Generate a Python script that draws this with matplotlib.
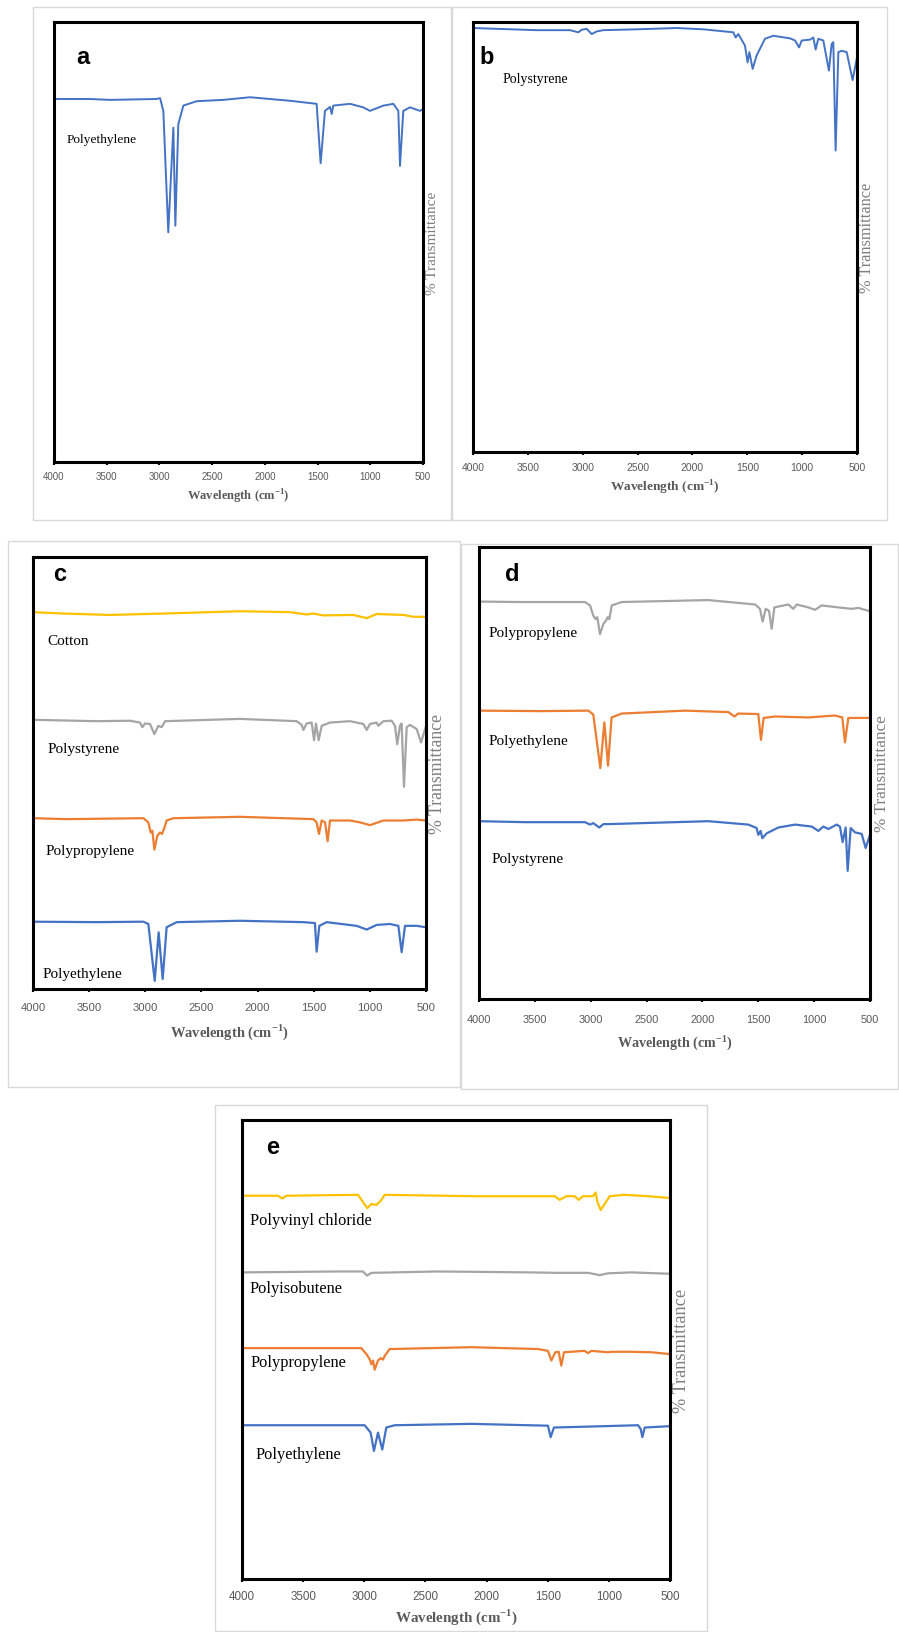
import matplotlib
matplotlib.use("Agg")
import matplotlib.pyplot as plt
from matplotlib.patches import Rectangle

# colours (Excel default palette)
BLUE = '#4472C4'
ORANGE = '#ED7D31'
GRAY = '#A5A5A5'
YELLOW = '#FFC000'

ticks = [4000, 3500, 3000, 2500, 2000, 1500, 1000, 500]

# ---- panel a : polyethylene ----
a_pe_wn = [4000, 3658, 3469, 3026, 2994, 2963, 2916, 2868, 2849, 2821, 2773, 2647, 2394, 2141,
           1762, 1509, 1471, 1430, 1382, 1366, 1351, 1192, 1066, 1003, 876, 781, 734, 718, 687, 623, 528, 500]
a_pe_t = [82.5, 82.5, 82.3, 82.5, 82.7, 79.8, 52.2, 76.0, 53.7, 76.8, 81.0, 82.0, 82.3, 82.9,
          82.1, 81.4, 67.9, 79.8, 80.7, 79.1, 81.0, 81.4, 80.6, 79.8, 81.0, 81.4, 79.8, 67.3, 79.8, 80.6, 79.8, 80.2]

# ---- panel b : polystyrene ----
b_ps_wn = [4000, 3420, 3116, 3040, 3010, 2964, 2918, 2873, 2812, 2508, 2144, 1901, 1627, 1606, 1582,
           1521, 1497, 1481, 1451, 1415, 1339, 1263, 1111, 1065, 1028, 1004, 928, 898, 877, 853, 807,
           756, 731, 716, 695, 670, 640, 594, 540, 500]
b_ps_t = [98.6, 98.1, 98.1, 97.6, 98.2, 98.4, 97.2, 97.8, 98.1, 98.3, 98.6, 98.3, 97.6, 96.4, 97.2,
          94.5, 90.6, 93.0, 89.1, 92.2, 96.1, 96.8, 96.2, 95.7, 94.1, 95.7, 95.9, 96.4, 93.6, 96.1, 95.7,
          88.7, 94.9, 95.3, 70.1, 93.0, 93.3, 93.0, 86.5, 91.8]

# ---- panel c ----
c_cot_wn = [4000, 3730, 3314, 2839, 2157, 1711, 1563, 1503, 1414, 1147, 1028, 939, 702, 613, 500]
c_cot_t = [88.5, 88.2, 87.9, 88.2, 88.7, 88.5, 88.0, 88.2, 87.8, 87.9, 87.2, 88.1, 87.9, 87.5, 87.5]

c_ps_wn = [4000, 3433, 3136, 3047, 3026, 3002, 2958, 2919, 2884, 2854, 2824, 2157, 1652, 1607, 1592,
           1563, 1518, 1497, 1480, 1456, 1429, 1355, 1177, 1058, 1028, 999, 939, 925, 880, 806, 776,
           756, 732, 717, 696, 672, 643, 583, 544, 500]
c_ps_t = [65.2, 64.9, 65.0, 64.6, 63.6, 64.4, 64.3, 62.1, 63.9, 63.6, 64.9, 65.4, 64.9, 64.1, 63.0,
          64.4, 64.6, 60.8, 64.4, 60.8, 63.9, 64.6, 64.9, 64.3, 63.0, 64.3, 64.6, 63.9, 64.9, 65.0, 63.9,
          59.9, 63.9, 64.4, 50.7, 63.6, 64.1, 63.2, 60.3, 63.9]

c_pp_wn = [4000, 3700, 3017, 2973, 2952, 2937, 2919, 2893, 2869, 2851, 2833, 2810, 2750, 2157, 1503,
           1474, 1453, 1429, 1399, 1376, 1355, 1177, 1088, 999, 880, 702, 583, 500]
c_pp_t = [43.9, 43.7, 43.9, 43.0, 40.8, 41.2, 37.1, 40.1, 40.8, 40.5, 41.6, 43.4, 43.9, 44.2, 43.7,
          43.0, 40.5, 43.4, 43.0, 38.9, 43.4, 43.4, 43.0, 42.4, 43.4, 43.4, 43.6, 43.4]

c_pe_wn = [4000, 3433, 3017, 2973, 2916, 2881, 2845, 2810, 2720, 2157, 1592, 1489, 1474, 1450, 1385,
           1118, 1028, 939, 821, 746, 717, 687, 583, 500]
c_pe_t = [21.5, 21.4, 21.5, 21.0, 8.7, 19.2, 9.1, 20.3, 21.4, 21.7, 21.4, 21.2, 15.0, 20.6, 21.4,
          20.6, 19.8, 20.8, 21.0, 20.6, 14.9, 20.6, 20.6, 20.3]

# ---- panel d ----
d_pp_wn = [4000, 3648, 3051, 3006, 2977, 2956, 2941, 2917, 2887, 2863, 2848, 2833, 2812, 2723, 1947,
           1529, 1485, 1461, 1434, 1404, 1380, 1356, 1231, 1186, 1156, 1052, 992, 933, 784, 664, 605, 500]
d_pp_t = [89.0, 88.9, 88.9, 88.2, 86.1, 85.4, 85.8, 82.3, 84.4, 85.1, 85.8, 85.4, 88.2, 88.9, 89.3,
          88.4, 87.5, 84.9, 87.5, 87.1, 83.4, 87.8, 88.4, 87.5, 88.4, 87.8, 87.3, 88.2, 87.8, 87.5, 87.7, 87.0]

d_pe_wn = [4000, 3439, 3021, 2977, 2914, 2878, 2845, 2813, 2723, 2156, 1768, 1714, 1679, 1500, 1476,
           1452, 1350, 1052, 813, 748, 724, 694, 500]
d_pe_t = [66.6, 66.5, 66.6, 65.8, 54.8, 64.2, 55.3, 65.2, 66.0, 66.6, 66.3, 65.4, 66.0, 65.9, 60.6,
          65.1, 65.4, 65.2, 65.6, 65.2, 60.1, 65.1, 65.1]

d_ps_wn = [4000, 3588, 3051, 3006, 2977, 2923, 2887, 2842, 1947, 1589, 1515, 1500, 1479, 1464, 1425,
           1321, 1171, 1022, 962, 918, 873, 798, 769, 745, 718, 700, 673, 634, 575, 539, 500]
d_ps_t = [43.9, 43.7, 43.7, 43.2, 43.5, 42.6, 43.3, 43.3, 43.9, 43.2, 42.5, 41.1, 41.9, 40.4, 41.4,
          42.6, 43.2, 42.8, 41.9, 42.8, 42.3, 43.2, 42.8, 39.6, 42.6, 33.7, 42.5, 41.6, 41.3, 38.4, 41.1]

# ---- panel e ----
e_pvc_wn = [4000, 3706, 3670, 3637, 3051, 3010, 2975, 2942, 2901, 2866, 2833, 2125, 1443, 1402, 1348,
            1280, 1247, 1211, 1130, 1108, 1094, 1067, 1034, 993, 871, 680, 500]
e_pvc_t = [83.5, 83.5, 82.9, 83.5, 83.7, 82.1, 80.8, 81.7, 81.5, 82.4, 83.7, 83.4, 83.4, 82.6, 83.4,
           83.4, 82.6, 83.4, 83.4, 84.2, 82.2, 80.4, 81.7, 83.4, 83.7, 83.4, 83.0]

e_pib_wn = [4000, 3215, 3011, 2978, 2942, 2397, 1661, 1416, 1170, 1075, 1007, 816, 500]
e_pib_t = [66.8, 67.0, 67.0, 66.1, 66.7, 67.0, 66.8, 66.7, 66.7, 66.2, 66.6, 66.8, 66.5]

e_pp_wn = [4000, 3024, 2983, 2956, 2942, 2929, 2915, 2888, 2866, 2847, 2833, 2793, 2125, 1579, 1498,
           1470, 1438, 1410, 1389, 1367, 1198, 1170, 1143, 1007, 980, 816, 653, 500]
e_pp_t = [50.3, 50.3, 49.0, 47.9, 46.8, 47.6, 45.6, 47.6, 48.1, 47.8, 48.6, 50.1, 50.5, 50.1, 49.7,
          47.6, 49.4, 49.5, 46.5, 49.4, 49.7, 49.2, 49.7, 49.4, 49.5, 49.5, 49.4, 49.0]

e_pe_wn = [4000, 2997, 2948, 2921, 2888, 2853, 2820, 2751, 2125, 1498, 1476, 1449, 1034, 762, 740,
           726, 707, 500]
e_pe_t = [33.5, 33.5, 31.9, 27.9, 31.9, 28.2, 33.0, 33.5, 33.8, 33.4, 30.9, 33.0, 33.3, 33.5, 32.7,
          30.9, 33.0, 33.3]


W, H = 899, 1633
fig = plt.figure(figsize=(W / 100, H / 100), dpi=100)
plt.rcParams['mathtext.fontset'] = 'custom'
plt.rcParams['mathtext.rm'] = 'Liberation Serif'
plt.rcParams['mathtext.bf'] = 'Liberation Serif:bold'

SERIF = 'Liberation Serif'


def fx(px):
    return px / W


def fy(py):
    return 1 - py / H


def border(l, t, r, b):
    fig.patches.append(Rectangle((fx(l), fy(b)), fx(r - l), (b - t) / H, transform=fig.transFigure,
                                 fill=False, edgecolor='#d9d9d9', lw=1.0))


def panel(l, t, r, b, letter, letter_xy, tick_dy, xlab_dy, ytitle_x, k=1.0, ylim=(0, 100)):
    ax = fig.add_axes([fx(l), fy(b), fx(r - l), (b - t) / H])
    ax.set_xlim(4000, 500)
    ax.set_ylim(*ylim)
    ax.set_yticks([])
    ax.set_xticks(ticks)
    ax.set_xticklabels([str(v) for v in ticks], fontsize=7 * k, color='#595959', family='Liberation Sans')
    ax.tick_params(axis='x', direction='out', length=2.5, width=1.5, color='black',
                   pad=(tick_dy - 8) * 0.72)
    for s in ax.spines.values():
        s.set_linewidth(2.2)
        s.set_color('black')
    fig.text(fx(letter_xy[0]), fy(letter_xy[1]), letter, fontsize=17, fontweight='bold',
             family='Liberation Sans', ha='center', va='center')
    fig.text(fx((l + r) / 2), fy(b + xlab_dy), r'Wavelength (cm$^{\mathbf{-1}}$)', fontsize=9 * k,
             fontweight='bold', family=SERIF, color='#595959', ha='center', va='center')
    fig.text(fx(ytitle_x), fy((t + b) / 2), '% Transmittance', fontsize=11 * k, family=SERIF,
             color='#7f7f7f', rotation=90, ha='center', va='center')
    return ax


def name(px, py, s, size):
    fig.text(fx(px), fy(py), s, fontsize=size, family=SERIF, ha='left', va='center')


# outer light boxes
border(33, 8, 451, 521)
border(452, 8, 887, 521)
border(8, 542, 460, 1088)
border(461, 545, 898, 1090)
border(215, 1106, 707, 1632)

# a
ax = panel(54, 23, 423, 463, 'a', (83, 57), 14, 34, 432, k=1.0)
ax.plot(a_pe_wn, a_pe_t, color=BLUE, lw=1.4)
name(67, 140, 'Polyethylene', 9.6)

# b
ax = panel(473, 23, 857, 453, 'b', (487, 57), 15, 35, 867, k=1.07)
ax.plot(b_ps_wn, b_ps_t, color=BLUE, lw=1.4)
name(503, 80, 'Polystyrene', 10)

# c
ax = panel(33, 558, 426, 990, 'c', (60, 575), 18, 42, 437, k=1.16, ylim=(6.93, 100.44))
ax.plot(c_cot_wn, c_cot_t, color=YELLOW, lw=1.6)
ax.plot(c_ps_wn, c_ps_t, color=GRAY, lw=1.6)
ax.plot(c_pp_wn, c_pp_t, color=ORANGE, lw=1.6)
ax.plot(c_pe_wn, c_pe_t, color=BLUE, lw=1.6)
name(47, 642, 'Cotton', 11)
name(48, 750, 'Polystyrene', 11)
name(46, 852, 'Polypropylene', 11)
name(43, 975, 'Polyethylene', 11)

# d
ax = panel(479, 548, 870, 1000, 'd', (512, 575), 20, 43, 882, k=1.13, ylim=(7.39, 100.2))
ax.plot(d_pp_wn, d_pp_t, color=GRAY, lw=1.6)
ax.plot(d_pe_wn, d_pe_t, color=ORANGE, lw=1.6)
ax.plot(d_ps_wn, d_ps_t, color=BLUE, lw=1.6)
name(489, 634, 'Polypropylene', 11)
name(489, 742, 'Polyethylene', 11)
name(492, 860, 'Polystyrene', 11)

# e
ax = panel(242, 1121, 670, 1580, 'e', (273, 1148), 16, 37, 681, k=1.2)
ax.plot(e_pvc_wn, e_pvc_t, color=YELLOW, lw=1.6)
ax.plot(e_pib_wn, e_pib_t, color=GRAY, lw=1.6)
ax.plot(e_pp_wn, e_pp_t, color=ORANGE, lw=1.6)
ax.plot(e_pe_wn, e_pe_t, color=BLUE, lw=1.6)
name(250, 1221, 'Polyvinyl chloride', 11.8)
name(250, 1289, 'Polyisobutene', 11.8)
name(251, 1363, 'Polypropylene', 11.8)
name(255, 1455, 'Polyethylene', 11.8)

fig.savefig('out.png', dpi=100)
